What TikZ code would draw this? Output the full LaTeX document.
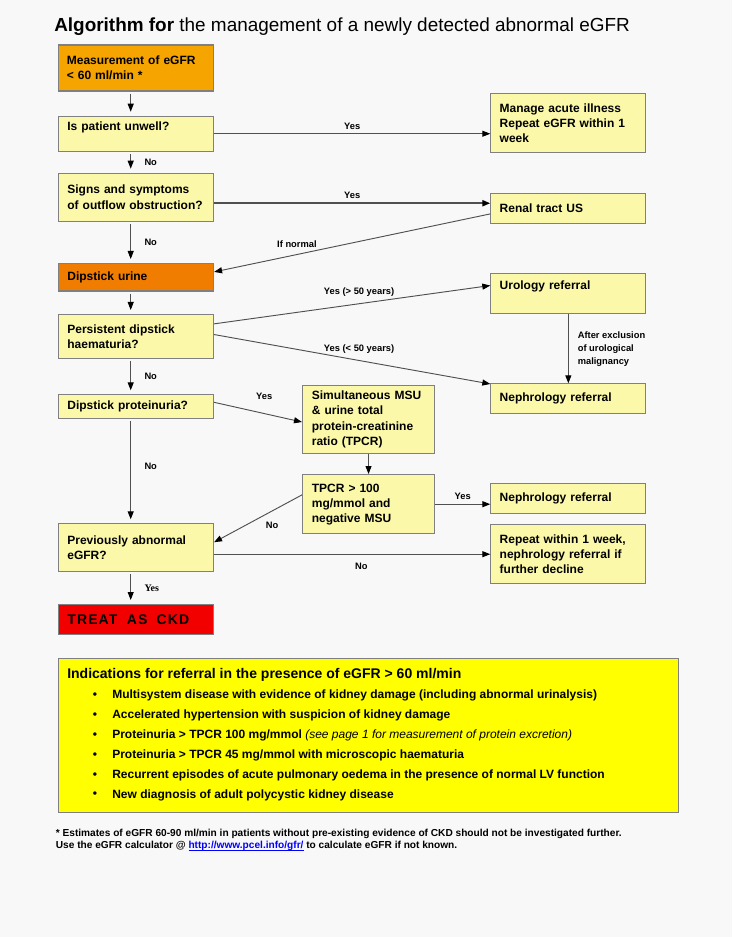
\documentclass[tikz,border=0pt]{standalone}
\usepackage{fontspec}
\setmainfont{Liberation Sans}
\newfontfamily\timesfont{Liberation Serif}
\usetikzlibrary{arrows.meta, positioning}

\definecolor{bgpage}{HTML}{F8F8F8}
\definecolor{boxfill}{HTML}{FBF9A9}
\definecolor{boxline}{HTML}{808080}
\definecolor{measfill}{HTML}{F5A400}
\definecolor{urinefill}{HTML}{F07C00}
\definecolor{ckdfill}{HTML}{F20000}
\definecolor{indicfill}{HTML}{FFFF00}
\definecolor{flowline}{HTML}{505050}

\begin{document}
\begin{tikzpicture}[x=0.75pt, y=-0.75pt,
    every node/.style={font=\bfseries\fontsize{9}{11.3}\selectfont},
    stepbox/.style={draw=boxline, line width=0.8pt, fill=boxfill, anchor=north west, align=left,
      inner xsep=6.5pt, inner ysep=2pt, text width=103pt, minimum width=116.25pt},
    midbox/.style={stepbox, text width=85pt, minimum width=99pt},
    lbl/.style={font=\bfseries\fontsize{7}{8}\selectfont, inner sep=1pt},
    arr/.style={draw=flowline, line width=0.7pt, -{Triangle[color=black, length=6pt, width=4.5pt]}},
    down/.style={arr, shorten <=1.5pt, shorten >=3pt}]

  % Page
  \fill[bgpage] (0,0) rectangle (732,937);
  \useasboundingbox (0,0) rectangle (732,937);

  % Title
  \node[anchor=west, inner sep=0pt, font=\mdseries\fontsize{14.2}{16}\selectfont] (title) at (54,26.7)
    {\textbf{Algorithm for} the management of a newly detected abnormal eGFR};

  % Left column
  \node[stepbox, fill=measfill, minimum height=34.5pt] (meas) at (57.5,44.5) {Measurement of eGFR\\< 60 ml/min *};
  \node[stepbox, minimum height=26.25pt, text depth=11pt] (unwell) at (58,115.7) {Is patient unwell?};
  \node[stepbox, minimum height=36pt] (signs) at (58,172.7) {Signs and symptoms\\of outflow obstruction?};
  \node[stepbox, fill=urinefill, minimum height=20.6pt] (urine) at (58,263) {Dipstick urine};
  \node[stepbox, minimum height=33pt] (persist) at (58,314) {Persistent dipstick\\haematuria?};
  \node[stepbox, minimum height=17.6pt] (protein) at (58,394.3) {Dipstick proteinuria?};
  \node[stepbox, minimum height=36pt] (prev) at (58,523.3) {Previously abnormal\\eGFR?};
  \node[stepbox, fill=ckdfill, minimum height=22.5pt,
    font=\bfseries\fontsize{10.5}{12}\selectfont\addfontfeature{LetterSpace=8}] (ckd) at (58,604) {TREAT\ \ AS\ \ CKD};

  % Middle column
  \node[midbox, minimum height=51.2pt] (msu) at (302,384.7) {Simultaneous MSU\\\& urine total\\protein-creatinine\\ratio (TPCR)};
  \node[midbox, minimum height=44.5pt] (tpcr) at (302,474) {TPCR > 100\\mg/mmol and\\negative MSU};

  % Right column
  \node[stepbox, minimum height=44.7pt] (manage) at (490.3,92.7) {Manage acute illness\\Repeat eGFR within 1\\week};
  \node[stepbox, minimum height=23pt] (renal) at (490.3,192.7) {Renal tract US};
  \node[stepbox, minimum height=30pt, text depth=12.4pt] (uro) at (490.3,273) {Urology referral};
  \node[stepbox, minimum height=22.5pt] (nephA) at (490.3,383.3) {Nephrology referral};
  \node[stepbox, minimum height=22.5pt] (nephB) at (490.3,483.3) {Nephrology referral};
  \node[stepbox, minimum height=44.5pt] (repeat) at (490.3,524) {Repeat within 1 week,\\nephrology referral if\\further decline};

  % Main spine
  \coordinate (spine) at (130.7,0);
  \draw[down] (meas.south -| spine) -- (unwell.north -| spine);
  \draw[down] (unwell.south -| spine) -- node[lbl, right=9pt] {No} (signs.north -| spine);
  \draw[down] (signs.south -| spine) -- node[lbl, right=9pt] {No} (urine.north -| spine);
  \draw[down] (urine.south -| spine) -- (persist.north -| spine);
  \draw[down] (persist.south -| spine) -- node[lbl, right=9pt] {No} (protein.north -| spine);
  \draw[down] (protein.south -| spine) -- node[lbl, pos=0.45, right=9pt] {No} (prev.north -| spine);
  \draw[down] (prev.south -| spine) -- node[lbl, right=9pt, font=\timesfont\bfseries\fontsize{7.5}{8}\selectfont] {Yes} (ckd.north -| spine);

  % Branches to the right
  \draw[arr] (unwell.east) -- node[lbl, above=2pt] {Yes} (unwell.east -| manage.west);
  \coordinate (obs) at ([yshift=-4.5pt]signs.east);
  \draw[arr, line width=1.5pt] (obs) -- node[lbl, above=2pt] {Yes} (obs -| renal.west);
  \draw[arr] ([yshift=-4pt]renal.west) -- node[lbl, pos=0.7, above=4pt] {If normal} ([yshift=4pt]urine.east);
  \draw[arr] ([yshift=9.5pt]persist.east) -- node[lbl, pos=0.525, above=4pt] {Yes (> 50 years)} ([yshift=6pt]uro.west);
  \draw[arr] ([yshift=1.5pt]persist.east) -- node[lbl, pos=0.525, above=4pt] {Yes (< 50 years)} ([yshift=-0.5pt]nephA.north west);
  \draw[arr] (uro.south) -- node[lbl, right=5.75pt, align=left, font=\bfseries\fontsize{7}{9.75}\selectfont]
    {After exclusion\\of urological\\malignancy} (nephA.north);
  \draw[arr] ([yshift=3.2pt]protein.east) -- node[lbl, pos=0.57, above=9pt] {Yes} ([yshift=-2pt]msu.west);
  \draw[arr] (msu.south) -- (tpcr.north);
  \draw[arr] (tpcr.east) -- node[lbl, above=2pt] {Yes} (tpcr.east -| nephB.west);
  \draw[arr] ([yshift=7pt]tpcr.west) -- node[lbl, pos=0.34, below=7pt] {No} ([yshift=4.2pt]prev.east);
  \draw[arr] (prev.east |- repeat.west) -- node[lbl, pos=0.533, below=5pt] {No} (repeat.west);

  % Indications box
  \node[draw=boxline, line width=0.8pt, fill=indicfill, anchor=north west,
    minimum width=465pt, minimum height=115pt] (indic) at (58.2,658.3) {};
  \node[anchor=west, inner sep=0pt, font=\bfseries\fontsize{10.5}{12}\selectfont] (indictitle) at (67,675)
    {Indications for referral in the presence of eGFR > 60 ml/min};
  \foreach \txt [count=\i] in {
      {Multisystem disease with evidence of kidney damage (including abnormal urinalysis)},
      {Accelerated hypertension with suspicion of kidney damage},
      {Proteinuria > TPCR 100 mg/mmol {\mdseries\itshape (see page 1 for measurement of protein excretion)}},
      {Proteinuria > TPCR 45 mg/mmol with microscopic haematuria},
      {Recurrent episodes of acute pulmonary oedema in the presence of normal LV function},
      {New diagnosis of adult polycystic kidney disease}}{
    \node[inner sep=0pt, font=\bfseries\fontsize{9}{10}\selectfont] at (95,{675.7+19.9*\i}) {\textbullet};
    \node[anchor=west, inner sep=0pt, font=\bfseries\fontsize{9}{10}\selectfont] at (112,{675.7+19.9*\i}) {\txt};
  }

  % Footnote
  \node[anchor=west, inner sep=0pt, font=\bfseries\fontsize{7.6}{9}\selectfont] (noteA) at (55.6,834)
    {* Estimates of eGFR 60-90 ml/min in patients without pre-existing evidence of CKD should not be investigated further.};
  \node[anchor=west, inner sep=0pt, font=\bfseries\fontsize{7.6}{9}\selectfont] (noteB) at (55.6,846)
    {Use the eGFR calculator @ \textcolor{blue}{\underline{\smash{http://www.pcel.info/gfr/}}} to calculate eGFR if not known.};

\end{tikzpicture}
\end{document}
